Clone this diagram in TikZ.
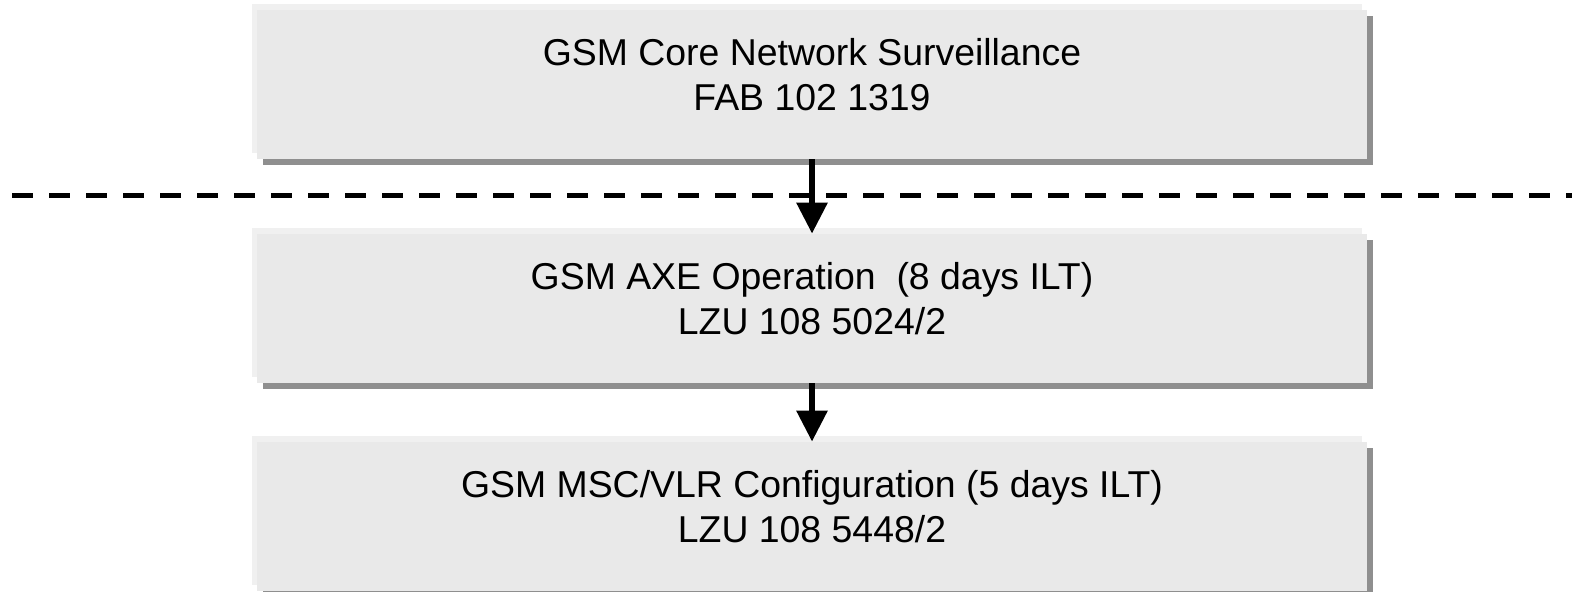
\documentclass[tikz,border=0pt]{standalone}
\usepackage{fontspec}
\setmainfont{Liberation Sans}
\usepackage{xcolor}
\usepackage{tikz}
\usetikzlibrary{arrows.meta,shadows}

\definecolor{boxgray}{HTML}{E9E9E9}
\definecolor{hilite}{HTML}{F0F0F0}
\definecolor{shadegray}{HTML}{8F8F8F}

\begin{document}
\begin{tikzpicture}[x=0.5pt, y=-0.5pt, >={Triangle[width=15pt,length=15.5pt]}]
    \useasboundingbox (0,0) rectangle (1572,592);
    \tikzset{course/.style={rectangle, fill=boxgray, minimum width=555pt, minimum height=74.5pt,
        align=center, font=\fontsize{18.7pt}{22.5pt}\selectfont, text depth=10pt,
        general shadow={fill=shadegray, shadow xshift=3pt, shadow yshift=-3pt},
        general shadow={fill=hilite, shadow xshift=-2.5pt, shadow yshift=3pt}}}

    \node[course] (core) at (812,84.5) {GSM Core Network Surveillance\\FAB 102 1319};
    \node[course, node distance=112pt, below of=core] (axe) {GSM AXE Operation\ \ (8 days ILT)\\LZU 108 5024/2};
    \node[course, node distance=104pt, below of=axe] (msc) {GSM MSC/VLR Configuration (5 days ILT)\\LZU 108 5448/2};

    \coordinate (cutL) at (12,196);
    \coordinate (cutR) at (1572,196);
    \draw[line width=2.5pt, dash pattern=on 10.5pt off 8pt] (cutL) -- (cutR);

    \draw[->, line width=3pt] (core) -- (axe);
    \draw[->, line width=3pt] (axe) -- (msc);
\end{tikzpicture}
\end{document}
